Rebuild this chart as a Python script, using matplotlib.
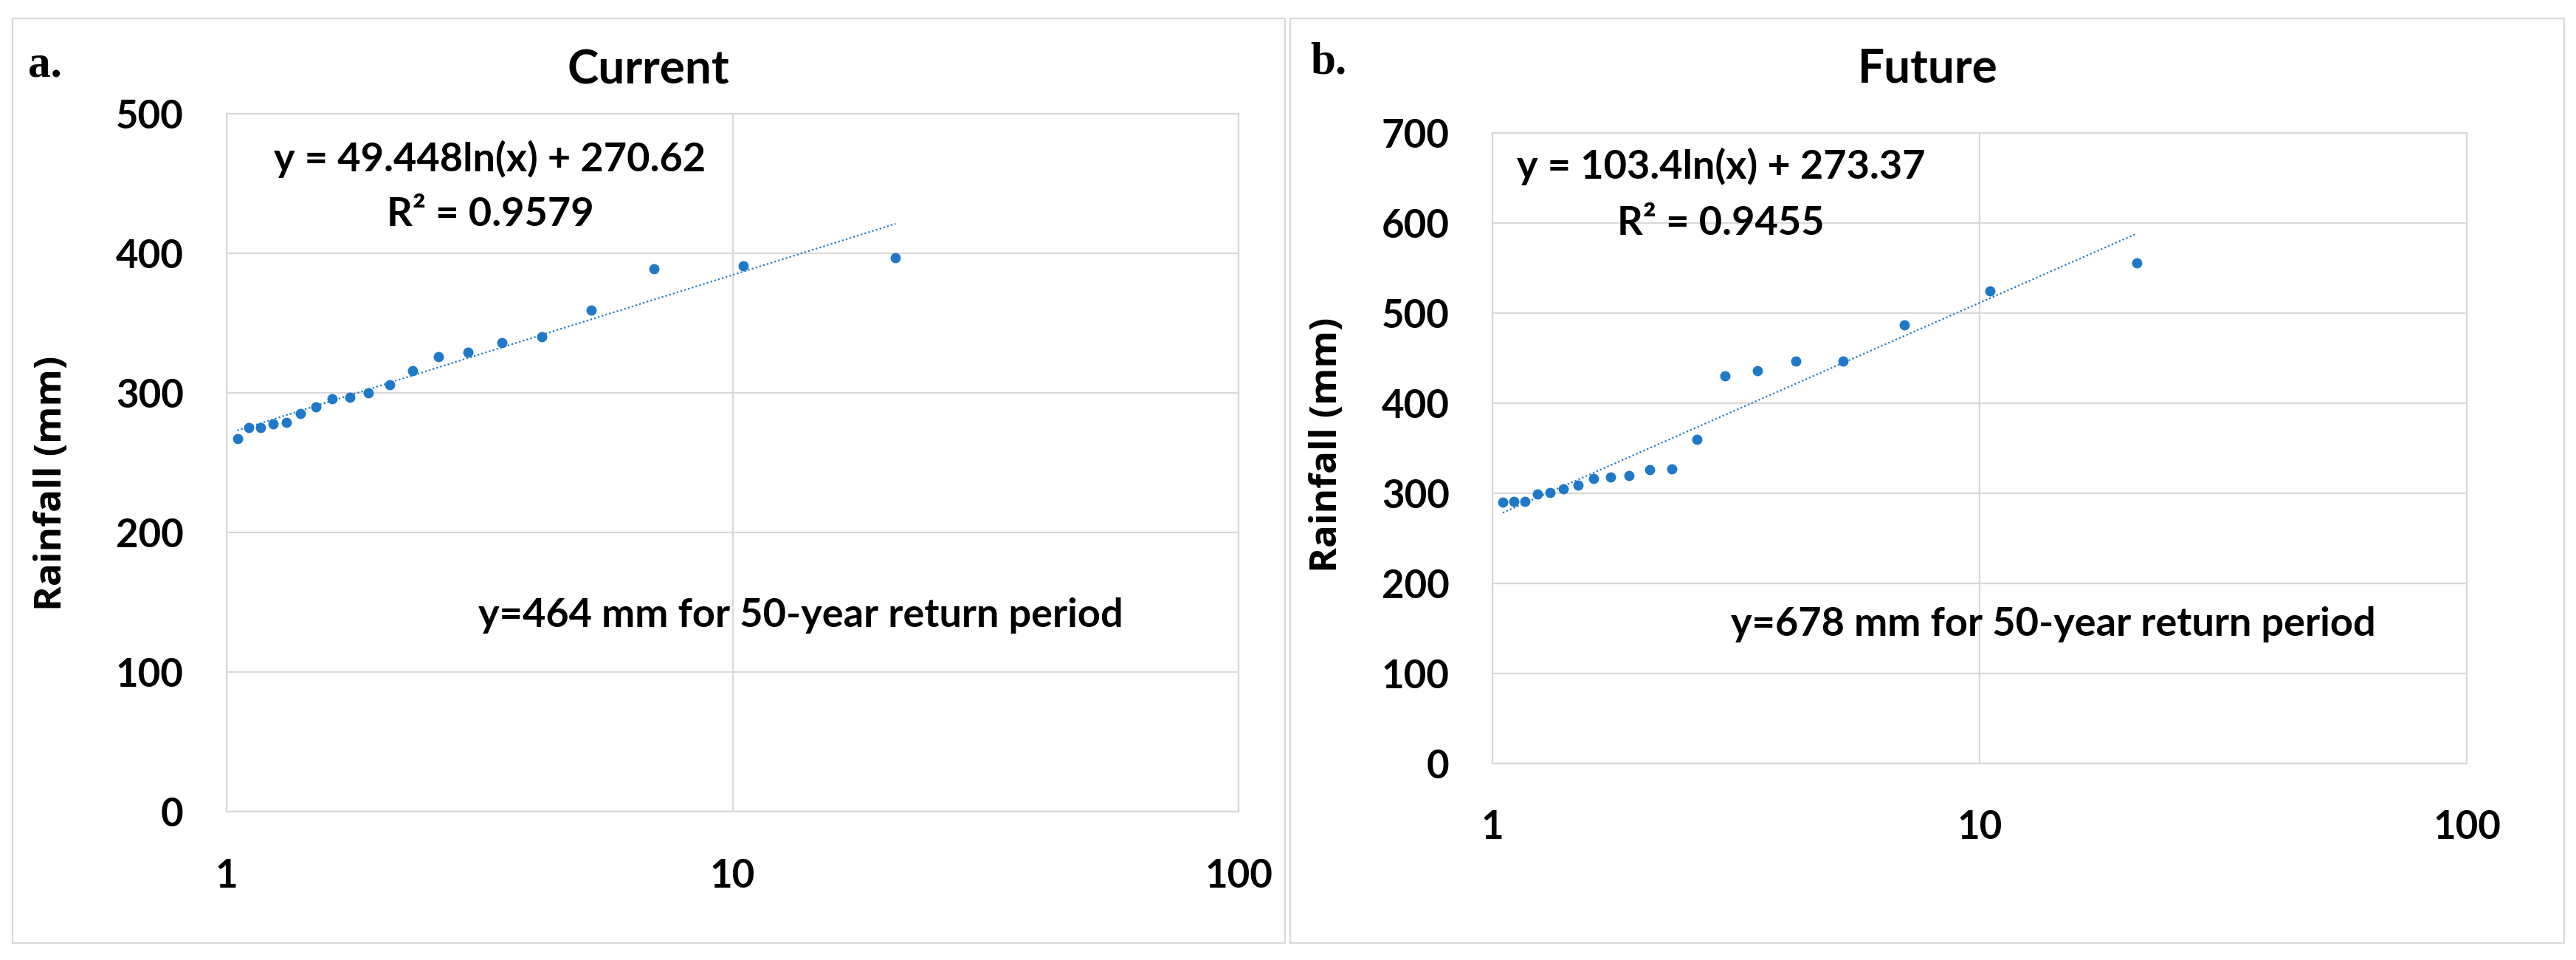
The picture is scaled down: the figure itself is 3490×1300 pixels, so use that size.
import matplotlib
matplotlib.use("Agg")
import matplotlib.pyplot as plt
from matplotlib.patches import Rectangle
import numpy as np

# figure size in pixels (dpi 100)
W, H = 3491, 1300

# return period (years) of the 20 ranked annual maxima
return_period = [1.05, 1.105, 1.167, 1.235, 1.313, 1.4, 1.5, 1.615, 1.75, 1.909,
                 2.1, 2.333, 2.625, 3.0, 3.5, 4.2, 5.25, 7.0, 10.5, 21.0]

# rainfall (mm) for the same ranks
rain_current = [267, 275, 275, 278, 279, 285, 290, 296, 297, 300,
                306, 316, 326, 329, 336, 340, 359, 389, 391, 397]
rain_future = [290, 291, 291, 299, 301, 305, 309, 316, 318, 320,
               326, 327, 360, 430, 436, 447, 447, 487, 525, 556]

# log trendlines as reported on the chart: y = a*ln(x) + b
fit_current = (49.448, 270.62, 0.9579)
fit_future = (103.4, 273.37, 0.9455)

design_current = 464
design_future = 678

x_ticks = [1, 10, 100]
y_ticks_current = [0, 100, 200, 300, 400, 500]
y_ticks_future = [0, 100, 200, 300, 400, 500, 600, 700]

BLUE = "#1f78c8"
GRID = "#d9d9d9"
SANS = ["Lato", "DejaVu Sans"]


def fx(x):
    return x / W


def fy(y):
    return 1 - y / H


def draw_panel(ax, x, y, fit, yticks):
    a, b, r2 = fit
    xs = np.geomspace(min(x), max(x), 200)
    ax.plot(xs, a * np.log(xs) + b, color=BLUE, lw=1.6,
            linestyle=(0, (1, 1.4)), zorder=2)
    ax.plot(x, y, "o", color=BLUE, ms=10, mec="none", zorder=3)

    ax.set_xscale("log")
    ax.set_xlim(1, 100)
    ax.set_ylim(yticks[0], yticks[-1])
    ax.set_xticks(x_ticks)
    ax.set_xticklabels([str(t) for t in x_ticks])
    ax.xaxis.set_minor_locator(matplotlib.ticker.NullLocator())
    ax.set_yticks(yticks)
    ax.tick_params(length=0, labelsize=38)
    ax.tick_params(axis="y", pad=42)
    ax.tick_params(axis="x", pad=45)
    for lab in ax.get_xticklabels() + ax.get_yticklabels():
        lab.set_family(SANS)
        lab.set_weight("bold")
    ax.grid(True, which="major", color=GRID, lw=1.6)
    ax.set_axisbelow(True)
    for s in ax.spines.values():
        s.set_color(GRID)
        s.set_linewidth(1.6)


fig = plt.figure(figsize=(W / 100, H / 100), dpi=100)

# panel frames
for x0, x1 in [(17, 1741), (1748, 3474)]:
    fig.patches.append(Rectangle((fx(x0), fy(1277)), (x1 - x0) / W, (1277 - 25) / H,
                                 transform=fig.transFigure, fill=False,
                                 ec=GRID, lw=1.6))

ax1 = fig.add_axes([fx(307), fy(1099), (1678 - 307) / W, (1099 - 154) / H])
draw_panel(ax1, return_period, rain_current, fit_current, y_ticks_current)

ax2 = fig.add_axes([fx(2022), fy(1034), (3342 - 2022) / W, (1034 - 180) / H])
draw_panel(ax2, return_period, rain_future, fit_future, y_ticks_future)

# panel letters
fig.text(fx(38), fy(103), "a.", fontsize=44, weight="bold",
         family=["Liberation Serif", "DejaVu Serif"], ha="left", va="baseline")
fig.text(fx(1775), fy(100), "b.", fontsize=44, weight="bold",
         family=["Liberation Serif", "DejaVu Serif"], ha="left", va="baseline")

# titles
fig.text(fx(878), fy(113), "Current", fontsize=46, weight="bold",
         family=SANS, ha="center", va="baseline")
fig.text(fx(2612), fy(112), "Future", fontsize=46, weight="bold",
         family=SANS, ha="center", va="baseline")

# y labels
for xc, yc in [(70, 654), (1798, 602)]:
    fig.text(fx(xc), fy(yc), "Rainfall (mm)", fontsize=37, weight="bold",
             family=["Open Sans", "DejaVu Sans"], rotation=90,
             ha="center", va="center")

# trendline equations and design values
panels = [(fit_current, design_current, (664, 215), (664, 290), (1085, 833)),
          (fit_future, design_future, (2332, 225), (2331, 302), (2782, 846))]
for fit, design, p_eq, p_r2, p_des in panels:
    a, b, r2 = fit
    fig.text(fx(p_eq[0]), fy(p_eq[1]), f"y = {a:g}ln(x) + {b:g}", fontsize=39,
             weight="bold", family=SANS, ha="center", va="center")
    fig.text(fx(p_r2[0]), fy(p_r2[1]), f"R\u00b2 = {r2:g}", fontsize=39,
             weight="bold", family=SANS, ha="center", va="center")
    fig.text(fx(p_des[0]), fy(p_des[1]),
             f"y={design} mm for 50-year return period", fontsize=39,
             weight="bold", family=SANS, ha="center", va="center")

fig.savefig("out.png", dpi=100)
